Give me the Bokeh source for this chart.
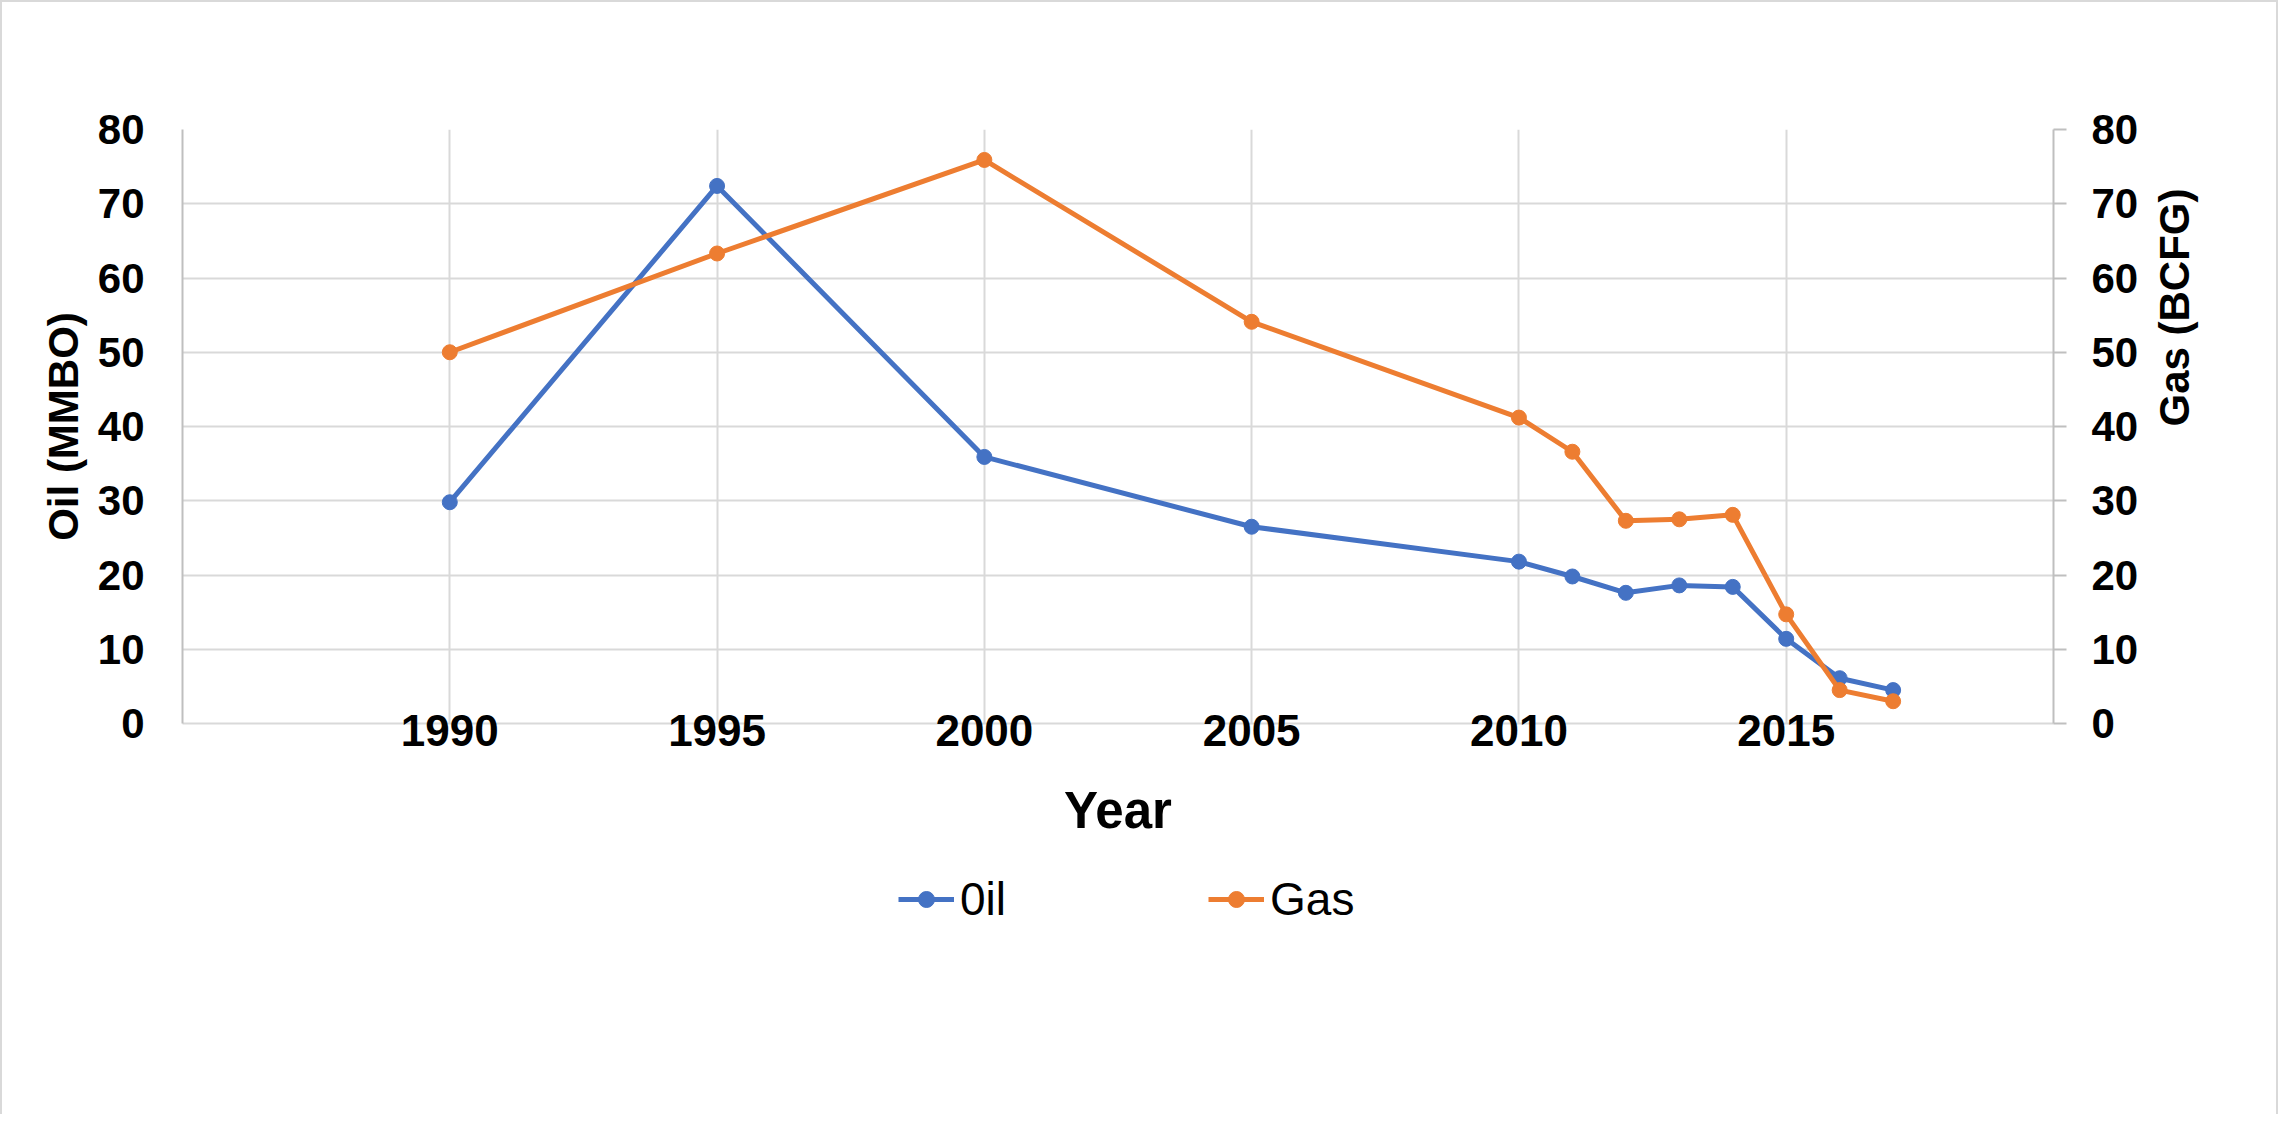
import math
from bokeh.plotting import figure
from bokeh.layouts import column
from bokeh.models import Range1d, LinearAxis, FixedTicker, Legend, LegendItem
from bokeh.embed import file_html
from bokeh.resources import INLINE

# ---- data ----
years = [1990, 1995, 2000, 2005, 2010, 2011, 2012, 2013, 2014, 2015, 2016, 2017]
oil = [29.8, 72.4, 35.9, 26.5, 21.8, 19.8, 17.6, 18.6, 18.4, 11.4, 6.1, 4.5]
gas = [50.0, 63.3, 75.9, 54.1, 41.2, 36.6, 27.3, 27.5, 28.1, 14.7, 4.5, 3.0]
year_ticks = [1990, 1995, 2000, 2005, 2010, 2015]
value_ticks = [0, 10, 20, 30, 40, 50, 60, 70, 80]
x_title = "Year"
oil_title = "Oil (MMBO)"
gas_title = "Gas (BCFG)"
oil_label = "0il"
gas_label = "Gas"

OIL_C = "#4472C4"
GAS_C = "#ED7D31"
GRID_C = "#d9d9d9"
AXIS_C = "#bfbfbf"
FONT = "Liberation Sans"
LW = 5
MS = 15

X0, X1 = 1985, 2020
Y0, Y1 = 0, 80

W = 2274
H_MAIN = 850
H_LEG = 262

p = figure(width=W, height=H_MAIN, output_backend="svg", toolbar_location=None,
           x_range=Range1d(X0, X1), y_range=Range1d(Y0, Y1),
           min_border_left=180, min_border_right=223, min_border_top=127,
           min_border_bottom=H_MAIN - 721)
p.extra_y_ranges = {"gas": Range1d(Y0, Y1)}
p.outline_line_color = None
p.background_fill_color = "white"
p.border_fill_color = "white"

p.line(years, oil, line_color=OIL_C, line_width=LW)
p.scatter(years, oil, size=MS, fill_color=OIL_C, line_color=OIL_C)
p.line(years, gas, line_color=GAS_C, line_width=LW, y_range_name="gas")
p.scatter(years, gas, size=MS, fill_color=GAS_C, line_color=GAS_C, y_range_name="gas")

# x axis
xa = p.xaxis[0]
xa.ticker = FixedTicker(ticks=year_ticks)
xa.major_label_text_font = FONT
xa.major_label_text_font_size = "44px"
xa.major_label_text_font_style = "bold"
xa.major_label_text_color = "black"
xa.major_tick_out = 0
xa.major_tick_in = 0
xa.minor_tick_out = 0
xa.minor_tick_in = 0
xa.axis_line_color = GRID_C
xa.axis_line_width = 2
xa.major_label_standoff = -9
xa.axis_label = x_title
xa.axis_label_text_font = FONT
xa.axis_label_text_font_size = "51px"
xa.axis_label_text_font_style = "bold"
xa.axis_label_text_color = "black"
xa.axis_label_standoff = 33

# left axis
ya = p.yaxis[0]
ya.ticker = FixedTicker(ticks=value_ticks)
ya.major_label_text_font = FONT
ya.major_label_text_font_size = "42px"
ya.major_label_text_font_style = "bold"
ya.major_label_text_color = "black"
ya.major_tick_out = 0
ya.major_tick_in = 0
ya.minor_tick_out = 0
ya.minor_tick_in = 0
ya.axis_line_color = AXIS_C
ya.axis_line_width = 2
ya.major_label_standoff = 38
ya.axis_label = oil_title
ya.axis_label_text_font = FONT
ya.axis_label_text_font_size = "42px"
ya.axis_label_text_font_style = "bold"
ya.axis_label_text_color = "black"
ya.axis_label_standoff = 8

# right axis
ra = LinearAxis(y_range_name="gas", ticker=FixedTicker(ticks=value_ticks))
ra.major_label_text_font = FONT
ra.major_label_text_font_size = "42px"
ra.major_label_text_font_style = "bold"
ra.major_label_text_color = "black"
ra.major_tick_out = 13
ra.major_tick_in = 0
ra.major_tick_line_color = AXIS_C
ra.major_tick_line_width = 2
ra.minor_tick_out = 0
ra.minor_tick_in = 0
ra.axis_line_color = AXIS_C
ra.axis_line_width = 2
ra.major_label_standoff = 25
ra.axis_label = gas_title
ra.axis_label_text_font = FONT
ra.axis_label_text_font_size = "42px"
ra.axis_label_text_font_style = "bold"
ra.axis_label_text_color = "black"
ra.axis_label_standoff = 33
if "axis_label_orientation" in ra.properties():
    ra.axis_label_orientation = math.pi / 2
    ra.axis_label_text_align = "center"
    ra.axis_label_text_baseline = "middle"
p.add_layout(ra, "right")

# grids
p.xgrid[0].ticker = FixedTicker(ticks=year_ticks)
p.xgrid[0].grid_line_color = GRID_C
p.xgrid[0].grid_line_width = 2
p.ygrid[0].ticker = FixedTicker(ticks=value_ticks)
p.ygrid[0].grid_line_color = GRID_C
p.ygrid[0].grid_line_width = 2

# legend strip below the chart (its series lie outside its view, only the legend shows)
q = figure(width=W, height=H_LEG, output_backend="svg", toolbar_location=None,
           x_range=Range1d(0, 1), y_range=Range1d(0, 1),
           x_axis_location=None, y_axis_location=None,
           min_border_left=0, min_border_right=0, min_border_top=0, min_border_bottom=0)
q.grid.visible = False
q.outline_line_color = None
q.background_fill_color = "white"
q.border_fill_color = "white"
q1 = q.line(years, oil, line_color=OIL_C, line_width=LW)
q2 = q.scatter(years, oil, size=MS, fill_color=OIL_C, line_color=OIL_C)
q3 = q.line(years, gas, line_color=GAS_C, line_width=LW)
q4 = q.scatter(years, gas, size=MS, fill_color=GAS_C, line_color=GAS_C)

legend = Legend(items=[LegendItem(label=oil_label, renderers=[q1, q2]),
                       LegendItem(label=gas_label, renderers=[q3, q4])],
                orientation="horizontal", location=(716, 188),
                label_text_font=FONT, label_text_font_size="46px",
                label_text_color="black",
                glyph_width=56, glyph_height=40, label_standoff=6,
                spacing=202, padding=0, margin=0,
                border_line_color=None, background_fill_alpha=0)
q.add_layout(legend, "center")

layout = column(p, q, spacing=0)
layout.styles = {"border": "2px solid #d9d9d9", "border-bottom": "none"}

open("out.html", "w").write(file_html(layout, INLINE))
